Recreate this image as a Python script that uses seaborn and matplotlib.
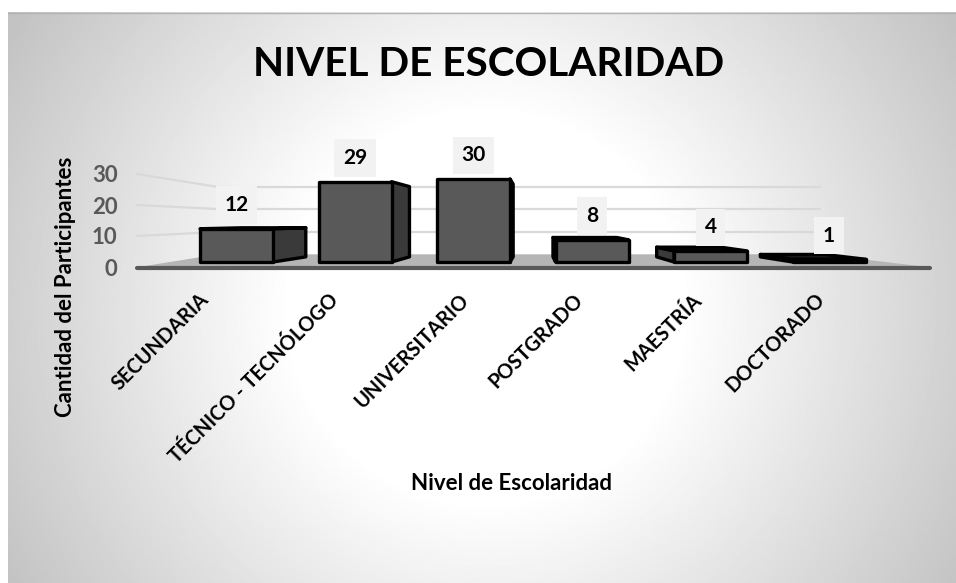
import numpy as np
import seaborn as sns
import pandas as pd
import matplotlib.pyplot as plt
from matplotlib.patches import Polygon
from matplotlib.transforms import ScaledTranslation

categorias = ['SECUNDARIA', 'TÉCNICO - TECNÓLOGO', 'UNIVERSITARIO', 'POSTGRADO', 'MAESTRÍA', 'DOCTORADO']
participantes = [12, 29, 30, 8, 4, 1]
ticks_y = [0, 10, 20, 30]

W, H = 956, 583
BASE = 262
BOTTOM = 275
PX_UNIT = 2.77
K = 0.125
VX = 2.519
VY = (BASE - 221) / PX_UNIT

sns.set_style('white')
plt.rcParams['font.family'] = ['Lato', 'DejaVu Sans']

fig = plt.figure(figsize=(W / 100, H / 100), dpi=100, facecolor='white')

# fondo con degradado y pared/piso, en pixeles
bg = fig.add_axes([0, 0, 1, 1])
bg.axis('off')
yy, xx = np.mgrid[0:H, 0:W]
dist = np.hypot(xx - 480, yy - 300)
grad = np.clip(1 - (dist - 197) * 0.00066, 0, 1)
bg.imshow(grad, cmap='gray', vmin=0, vmax=1, extent=(8, W + 3, H + 3, 12), aspect='auto', zorder=0)
bg.set_xlim(0, W)
bg.set_ylim(H, 0)
bg.plot([8, W], [12.5, 12.5], color='#b4b4b4', lw=1)

bg.add_patch(Polygon([(137, 268), (930, 268), (820, 255), (218, 255)], color='#b5b5b5', zorder=1))
for t, y0, y1 in zip(ticks_y[1:], [236, 205, 174], [232, 209, 187]):
    bg.plot([218, 820], [y1, y1], color='#d9d9d9', lw=1.6, zorder=1)
    bg.plot([137, 218], [y0, y1], color='#d9d9d9', lw=1.6, zorder=1)
bg.plot([137, 930], [268, 268], color='#595959', lw=3, solid_capstyle='round', zorder=2)

# barras
ax = fig.add_axes([137 / W, 1 - BOTTOM / H, (930 - 137) / W, (BOTTOM - 100) / H])
ax.patch.set_alpha(0)
df = pd.DataFrame({'nivel': categorias, 'cantidad': participantes})
sns.barplot(data=df, x='nivel', y='cantidad', order=categorias, color='#595959', saturation=1,
            width=0.616, edgecolor='black', linewidth=2.4, ax=ax)
sns.despine(ax=ax, left=True, bottom=True)


def fondo(x, y):
    return x + K * (VX - x), y + K * (VY - y)


for bar, v in zip(ax.patches, participantes):
    bar.set_zorder(4)
    bar.set_clip_on(False)
    bar.set_joinstyle('round')
    l, r = bar.get_x(), bar.get_x() + bar.get_width()
    borde = r if r < VX else l
    if l > VX or r < VX:
        ax.add_patch(Polygon([(borde, 0), (borde, v), fondo(borde, v), fondo(borde, 0)],
                             fc='#3a3a3a', ec='black', lw=2.4, joinstyle='round', zorder=3, clip_on=False))
    if v < VY:
        ax.add_patch(Polygon([(l, v), (r, v), fondo(r, v), fondo(l, v)],
                             fc='#1c1c1c', ec='black', lw=2.4, joinstyle='round', zorder=3, clip_on=False))
    xc = l + bar.get_width() / 2
    ax.annotate(str(v), (xc, v), xytext=(0, 17), textcoords='offset points', ha='center', va='center',
                fontsize=15, fontweight='bold', color='black', zorder=6,
                bbox=dict(boxstyle='square,pad=0.42', fc='#f2f2f2', ec='none'))

ax.set_yticks([(t * 3.1 - 5) / PX_UNIT for t in ticks_y])
ax.set_yticklabels(ticks_y, fontsize=16, fontweight='bold', color='#595959')
ax.tick_params(axis='y', length=0, pad=14)
ax.set_xticks(range(len(categorias)))
ax.set_xticklabels(categorias, rotation=45, ha='right', va='top', rotation_mode='anchor',
                   fontsize=14.4, fontweight='bold', color='black')
ax.tick_params(axis='x', length=0, pad=10.6)
offs = [-38, -27, -15, -19, -19, -15]
for lab, o in zip(ax.get_xticklabels(), offs):
    lab.set_transform(lab.get_transform() + ScaledTranslation(o / 100, 0, fig.dpi_scale_trans))
ax.set_xlabel('')
ax.set_ylabel('')
# set_yticks amplia los limites, por eso van despues
ax.set_xlim(-0.84, 5.852)
ax.set_ylim((BASE - BOTTOM) / PX_UNIT, (BASE - 100) / PX_UNIT)

bg.text(489, 64, 'NIVEL DE ESCOLARIDAD', fontsize=29.2, fontweight='bold', color='black', ha='center', va='center')
bg.text(66, 287, 'Cantidad del Participantes', fontsize=16, fontweight='bold', color='black',
        rotation=90, ha='center', va='center')
bg.text(512, 483, 'Nivel de Escolaridad', fontsize=16, fontweight='bold', color='black', ha='center', va='center')

fig.savefig('out.png', dpi=100)
